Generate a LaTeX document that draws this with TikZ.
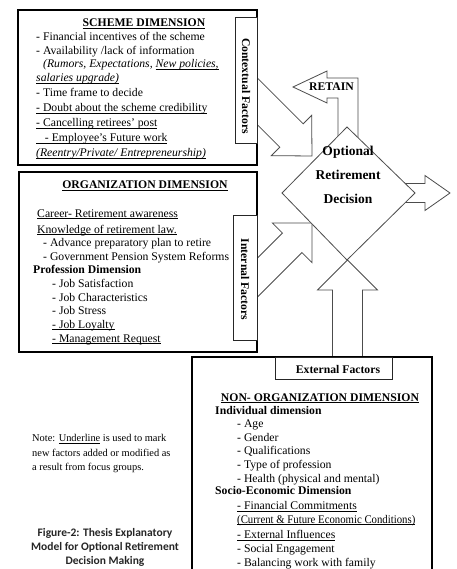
\documentclass[tikz,border=0pt]{standalone}
\usepackage{fontspec}
\setmainfont{Liberation Serif}
\newfontfamily\capfont{Carlito}
\newcommand{\myul}[1]{\setbox0=\hbox{#1}\rlap{\rule[-1.8pt]{\wd0}{0.6pt}}\box0\relax}
\newcommand{\blockarr}[7]{%
\begin{scope}[shift={(#1,#2)},rotate=#3]
\draw[barrow] (0,0) -- (-#7,#6) -- (-#7,#5) -- (-#4,#5) -- (-#4,-#5) -- (-#7,-#5) -- (-#7,-#6) -- cycle;
\end{scope}}
\begin{document}
\begin{tikzpicture}[x=1pt,y=-1pt,
  txt/.style={anchor=base west, inner sep=0pt, font=\fontsize{11.7}{13}\selectfont},
  btxt/.style={anchor=base west, inner sep=0pt, font=\fontsize{11.7}{13}\selectfont\bfseries},
  ctxt/.style={anchor=base, inner sep=0pt, font=\fontsize{11.7}{13}\selectfont\bfseries},
  dtxt/.style={anchor=base, inner sep=0pt, font=\fontsize{13.5}{15}\selectfont\bfseries},
  ntxt/.style={anchor=base west, inner sep=0pt, font=\fontsize{10.4}{12}\selectfont},
  captxt/.style={anchor=base, inner sep=0pt, font=\capfont\fontsize{11.5}{13}\selectfont\bfseries, text=black!85},
  vtxt/.style={rotate=-90, inner sep=0pt, font=\fontsize{11.7}{13}\selectfont\bfseries},
  mainbox/.style={draw=black, line width=1.6pt, fill=white},
  tagbox/.style={draw=black!85, line width=0.9pt, fill=white},
  barrow/.style={draw=black!70, line width=0.8pt, fill=white},
]
\clip (0,0) rectangle (456,569);
\fill[white] (0,0) rectangle (456,569);

% block arrows
\blockarr{312}{156}{-45}{110}{16.5}{28.5}{29}
\blockarr{312}{223}{45}{120}{13.8}{28}{28}
\blockarr{347.5}{260}{90}{110}{15}{30}{30}
\blockarr{450}{193}{0}{60}{9.5}{17.5}{25}
% RETAIN bent arrow
\draw[barrow] (293,87) -- (327,71) -- (327,78) -- (358,78) -- (358,150) -- (338,150) -- (338,98) -- (327,98) -- (327,103) -- cycle;
\node[ctxt] (ret) at (331.5,91) {RETAIN};

% decision diamond
\draw[barrow] (347,127) -- (415,193) -- (347,260) -- (282,193) -- cycle;
\node[dtxt] (d1) at (348,155.5) {Optional};
\node[dtxt] (d2) at (348,179.5) {Retirement};
\node[dtxt] (d3) at (348,203.5) {Decision};

% scheme box
\draw[mainbox] (18,10) rectangle (257,165);
\draw[tagbox] (235,17) rectangle (257,143);
\node[vtxt] (cf) at (246,86) {Contextual Factors};
\node[ctxt] (sh) at (144,27) {\myul{SCHEME DIMENSION}};
\node[txt] (s1) at (36,41) {- Financial incentives of the scheme};
\node[txt] (s2) at (36,55) {- Availability /lack of information};
\node[txt] (s3) at (43,68) {\itshape (Rumors, Expectations, \myul{New policies,}};
\node[txt] (s4) at (36,82) {\itshape\myul{salaries upgrade)}};
\node[txt] (s5) at (36,97) {- Time frame to decide};
\node[txt] (s6) at (36,112) {\myul{- Doubt about the scheme credibility}};
\node[txt] (s7) at (36,127) {\myul{- Cancelling retirees' post}};
\node[txt] (s8) at (36,142) {\myul{\ \ \ - Employee's Future work}};
\node[txt] (s9) at (36,157) {\itshape\myul{(Reentry/Private/ Entrepreneurship)}};

% organization box
\draw[mainbox] (19,172) rectangle (257,352);
\draw[tagbox] (233,215) rectangle (257,340);
\node[vtxt] (inf) at (245,279.5) {Internal Factors};
\node[ctxt] (oh) at (145,189) {\myul{ORGANIZATION DIMENSION}};
\node[txt] (o1) at (37,217) {\myul{Career- Retirement awareness}};
\node[txt] (o2) at (37,233) {\myul{Knowledge of retirement law.}};
\node[txt] (o3) at (43,246) {- Advance preparatory plan to retire};
\node[txt] (o4) at (43,260) {- Government Pension System Reforms};
\node[btxt] (o5) at (33,273) {Profession Dimension};
\node[txt] (o6) at (52,287) {- Job Satisfaction};
\node[txt] (o7) at (52,301) {- Job Characteristics};
\node[txt] (o8) at (52,314) {- Job Stress};
\node[txt] (o9) at (52,328) {\myul{- Job Loyalty}};
\node[txt] (o10) at (52,342) {\myul{- Management Request}};

% non-organization box
\draw[mainbox] (192,580) -- (192,357) -- (432,357) -- (432,580);
\draw[tagbox] (275,357) rectangle (392,379);
\node[ctxt] (ef) at (338,373) {External Factors};
\node[ctxt] (nh) at (320,401) {\myul{NON- ORGANIZATION DIMENSION}};
\node[btxt] (n1) at (215,414.5) {Individual dimension};
\node[txt] (n2) at (237,427.7) {- Age};
\node[txt] (n3) at (237,441) {- Gender};
\node[txt] (n4) at (237,454.7) {- Qualifications};
\node[txt] (n5) at (237,468) {- Type of profession};
\node[txt] (n6) at (237,482) {- Health (physical and mental)};
\node[btxt] (n7) at (215,494.7) {Socio-Economic Dimension};
\node[txt] (n8) at (237,509.4) {\myul{- Financial Commitments}};
\node[txt, xscale=0.92] (n9) at (237,523) {\myul{(Current \& Future Economic Conditions)}};
\node[txt] (n10) at (237,538.7) {\myul{- External Influences}};
\node[txt] (n11) at (237,552) {- Social Engagement};
\node[txt] (n12) at (237,566.4) {- Balancing work with family};

% note and caption
\node[ntxt] (nt1) at (32,441.5) {Note: \myul{Underline} is used to mark};
\node[ntxt] (nt2) at (32,456.5) {new factors added or modified as};
\node[ntxt] (nt3) at (32,470.5) {a result from focus groups.};
\node[captxt] (c1) at (105,536) {Figure-2: Thesis Explanatory};
\node[captxt] (c2) at (105,550) {Model for Optional Retirement};
\node[captxt] (c3) at (105,564) {Decision Making};
\end{tikzpicture}
\end{document}
